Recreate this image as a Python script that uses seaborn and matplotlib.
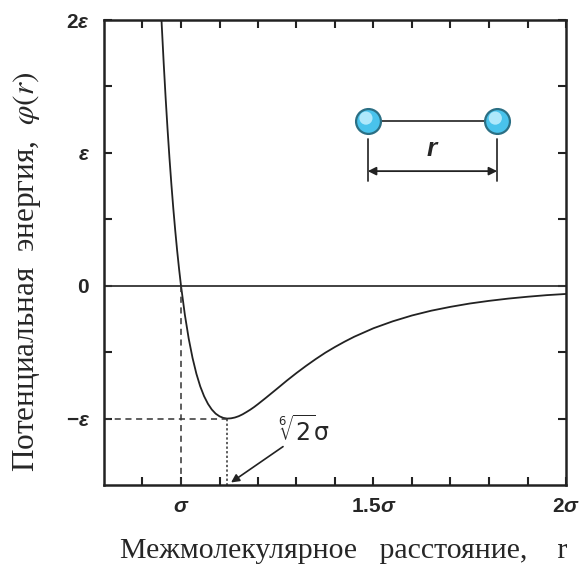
import matplotlib
matplotlib.use("Agg")
import matplotlib.pyplot as plt
import seaborn as sns
import pandas as pd

# ---- data (r in units of sigma, phi in units of epsilon) ----
r_vals = [0.945, 0.950, 0.955, 0.960, 0.965, 0.970, 0.975, 0.980, 0.985, 0.990, 0.995,
          1.000, 1.010, 1.020, 1.030, 1.040, 1.050, 1.060, 1.070, 1.080, 1.090, 1.100,
          1.110, 1.120, 1.130, 1.140, 1.150, 1.160, 1.170, 1.180, 1.190, 1.200, 1.220,
          1.250, 1.275, 1.300, 1.325, 1.350, 1.375, 1.400, 1.425, 1.450, 1.500, 1.550,
          1.600, 1.650, 1.700, 1.750, 1.800, 1.850, 1.900, 1.950, 2.000]
phi_vals = [2.271, 1.961, 1.678, 1.418, 1.181, 0.963, 0.764, 0.582, 0.416, 0.264, 0.126,
            0.000, -0.218, -0.398, -0.544, -0.663, -0.758, -0.832, -0.889, -0.932, -0.963,
            -0.983, -0.995, -1.000, -0.998, -0.992, -0.982, -0.968, -0.951, -0.933, -0.913,
            -0.891, -0.845, -0.774, -0.714, -0.657, -0.603, -0.552, -0.504, -0.461, -0.421,
            -0.384, -0.320, -0.268, -0.224, -0.188, -0.159, -0.134, -0.114, -0.097, -0.083,
            -0.071, -0.062]
sigma_r = 1.0
min_r = 1.12
min_phi = -1.0
x_ticks = [1.0, 1.5, 2.0]
x_minor = [0.9, 1.1, 1.2, 1.3, 1.4, 1.6, 1.7, 1.8, 1.9]
x_tick_labels = [r"$\sigma$", r"$1.5\sigma$", r"$2\sigma$"]
y_ticks = [-1.0, 0.0, 1.0, 2.0]
y_minor = [-0.5, 0.5, 1.5]
y_tick_labels = [r"$-\varepsilon$", r"$0$", r"$\varepsilon$", r"$2\varepsilon$"]

df = pd.DataFrame({"r": r_vals, "phi": phi_vals})

sns.set_style("ticks")
plt.rcParams["font.family"] = ["Liberation Sans", "DejaVu Sans"]
plt.rcParams["mathtext.fontset"] = "custom"
plt.rcParams["mathtext.rm"] = "Liberation Sans:bold"
plt.rcParams["mathtext.it"] = "Liberation Sans:italic:bold"
plt.rcParams["mathtext.bf"] = "Liberation Sans:bold"
plt.rcParams["mathtext.sf"] = "Liberation Sans:bold"

fig = plt.figure(figsize=(5.85, 5.66), dpi=100)
ax = fig.add_axes([104/585, 1-485/566, 462/585, 465/566])

sns.lineplot(data=df, x="r", y="phi", ax=ax, color="#222222", linewidth=1.3,
             sort=False, estimator=None)

ax.set_xlim(0.8, 2.0)
ax.set_ylim(-1.5, 2.0)

# zero line
ax.axhline(0, color="#333333", linewidth=1.3, zorder=1)
# guide lines
ax.plot([0.8, min_r], [min_phi, min_phi], color="#333333", linestyle=(0, (4, 3)), linewidth=1.1)
ax.plot([sigma_r, sigma_r], [0, -1.5], color="#333333", linestyle=(0, (4, 3)), linewidth=1.1)
ax.plot([min_r, min_r], [min_phi, -1.5], color="#333333", linestyle=(0, (1.5, 1.5)), linewidth=1.1)

# ticks
ax.set_xticks(x_ticks, labels=x_tick_labels)
ax.set_xticks(x_minor, minor=True)
ax.set_yticks(y_ticks, labels=y_tick_labels)
ax.set_yticks(y_minor, minor=True)
ax.tick_params(which="both", direction="in", top=True, right=True, length=6, width=1.5,
               color="#222222")
ax.tick_params(axis="x", which="major", pad=9, labelsize=15)
ax.tick_params(axis="y", which="major", pad=10, labelsize=15)
for sp in ax.spines.values():
    sp.set_linewidth(1.8)
    sp.set_color("#222222")

# axis labels
xl = ax.set_xlabel("Межмолекулярное   расстояние,    r", family="Liberation Serif",
                   fontsize=21.5, fontweight="normal")
xl.set_va("baseline")
ax.xaxis.set_label_coords(0.518, -0.157)
ylab = ax.set_ylabel(r"Потенциальная  энергия,  $\varphi(r)$", family="Liberation Serif",
                     fontsize=22.5, fontweight="normal")
ylab.set_math_fontfamily("stix")
ax.yaxis.set_label_coords(-0.133, 0.458)

# annotation for minimum
t = ax.text(1.319, -1.09, r"$\sqrt[6]{2}\mathrm{\sigma}$", ha="center", va="center",
            fontsize=17)
t.set_math_fontfamily("dejavusans")
ax.annotate("", xy=(1.130, -1.481), xytext=(1.265, -1.211),
            arrowprops=dict(arrowstyle="-|>", color="#222222", lw=1.2,
                            shrinkA=0, shrinkB=0, mutation_scale=12))

# molecule inset (axes fraction)
tr = ax.transAxes
ax.plot([0.571, 0.851], [0.783, 0.783], transform=tr, color="#333333", lw=1.3, zorder=3)
ax.scatter([0.571, 0.851], [0.783, 0.783], transform=tr, s=320, color="#49c3ec",
           edgecolor="#2b6f84", linewidth=1.6, zorder=4)
ax.scatter([0.567, 0.847], [0.789, 0.789], transform=tr, s=90, color="#c9f2ff",
           edgecolor="none", zorder=5, alpha=0.8)
ax.plot([0.571, 0.571], [0.745, 0.654], transform=tr, color="#333333", lw=1.3)
ax.plot([0.851, 0.851], [0.745, 0.654], transform=tr, color="#333333", lw=1.3)
ax.annotate("", xy=(0.571, 0.675), xytext=(0.851, 0.675), xycoords=tr, textcoords=tr,
            arrowprops=dict(arrowstyle="<|-|>", color="#222222", lw=1.3,
                            shrinkA=0, shrinkB=0, mutation_scale=12))
ax.text(0.709, 0.722, "r", transform=tr, fontsize=19, fontstyle="italic",
        fontweight="bold", ha="center", va="center", family="Liberation Sans")

fig.savefig("out.png", dpi=100, facecolor="white")
